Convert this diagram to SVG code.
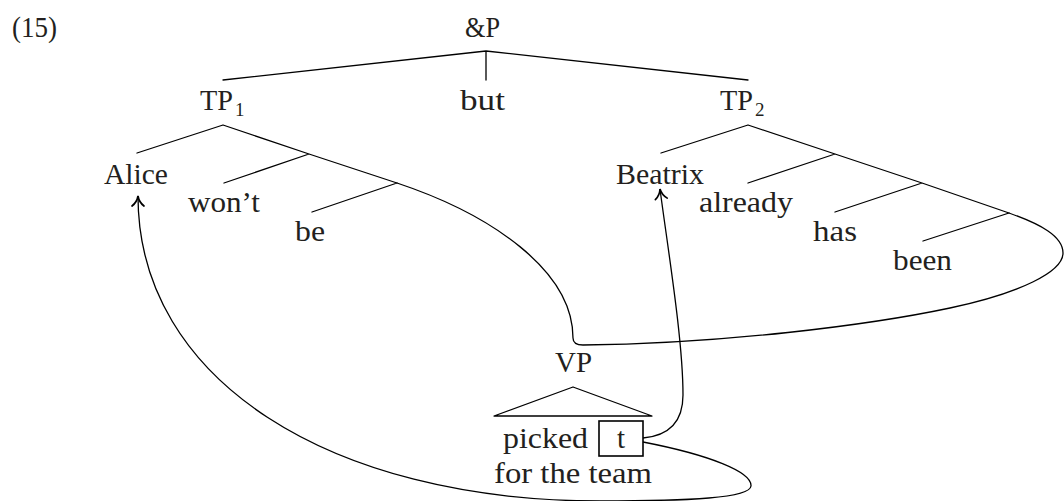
<svg xmlns="http://www.w3.org/2000/svg" width="1064" height="501" viewBox="0 0 1064 501">
  <style>
    text { font-family: "Liberation Serif", "Times New Roman", serif; font-size: 29px; fill: #231f20; }
    .sub { font-size: 19px; }
    .edge { fill: none; stroke: #000; stroke-width: 1.3; stroke-linecap: round; stroke-linejoin: round; }
    .move { fill: none; stroke: #000; stroke-width: 1.3; }
    .box { fill: none; stroke: #000; stroke-width: 1.6; }
  </style>
  <defs>
    <!-- slim curved arrowhead, tip at the path end -->
    <marker id="to" viewBox="-12 -8 14 16" refX="0" refY="0" markerWidth="14" markerHeight="16" markerUnits="userSpaceOnUse" orient="auto">
      <path d="M-10,-6 C-7.2,-2.4 -3,-0.5 0,0 C-3,0.5 -7.2,2.4 -10,6" fill="none" stroke="#000" stroke-width="1.7" stroke-linecap="round"/>
    </marker>
  </defs>

  <!-- example number -->
  <text id="exnum" x="12" y="37" textLength="45" lengthAdjust="spacingAndGlyphs">(15)</text>

  <!-- tree nodes -->
  <g id="andP"><text x="465" y="37" textLength="35" lengthAdjust="spacingAndGlyphs">&amp;P</text></g>
  <g id="TP1"><text x="200" y="110" textLength="33" lengthAdjust="spacingAndGlyphs">TP</text><text class="sub" x="235" y="116">1</text></g>
  <g id="but"><text x="460" y="110" textLength="45" lengthAdjust="spacingAndGlyphs">but</text></g>
  <g id="TP2"><text x="720" y="110" textLength="33" lengthAdjust="spacingAndGlyphs">TP</text><text class="sub" x="755" y="116">2</text></g>

  <g id="alice"><text x="104" y="184" textLength="64" lengthAdjust="spacingAndGlyphs">Alice</text></g>
  <g id="wont"><text x="188" y="212" textLength="72" lengthAdjust="spacingAndGlyphs">won’t</text></g>
  <g id="be"><text x="295" y="241" textLength="30" lengthAdjust="spacingAndGlyphs">be</text></g>

  <g id="beatrix"><text x="616" y="184" textLength="88" lengthAdjust="spacingAndGlyphs">Beatrix</text></g>
  <g id="already"><text x="699" y="212" textLength="94" lengthAdjust="spacingAndGlyphs">already</text></g>
  <g id="has"><text x="813" y="241" textLength="44" lengthAdjust="spacingAndGlyphs">has</text></g>
  <g id="been"><text x="893" y="270" textLength="59" lengthAdjust="spacingAndGlyphs">been</text></g>

  <g id="VP">
    <text x="555" y="372" textLength="37" lengthAdjust="spacingAndGlyphs">VP</text>
    <polygon class="edge" points="573,387 494,416 652,416"/>
    <text x="503" y="448" textLength="85" lengthAdjust="spacingAndGlyphs">picked</text>
    <text x="494" y="483" textLength="158" lengthAdjust="spacingAndGlyphs">for the team</text>
  </g>
  <g id="trace">
    <rect class="box" x="599" y="421" width="44" height="35"/>
    <text x="621" y="448" text-anchor="middle">t</text>
  </g>

  <!-- connectors -->
  <g id="connectors">
    <!-- &P branches -->
    <path class="edge" d="M223,80 L486,51 L748,80 M486,51 L486,80"/>
    <!-- left conjunct -->
    <path class="edge" d="M137,153 L223,125 L309,154 L397,183 M309,154 L224,183 M397,183 L312,212"/>
    <!-- right conjunct -->
    <path class="edge" d="M661,153 L748,125 L835,154 L922,183 L1009,213 M835,154 L748,183 M922,183 L835,212 M1009,213 L923,241"/>
    <!-- shared VP attached under both "be" and "been" -->
    <path class="edge" d="M397,183 C490,214 573,270 573,338 Q573,345 583,345 C720,344 870,325 950,308 C1020,293 1063,272 1063,253 C1063,236 1040,224 1009,213"/>
    <!-- movement of the trace to Beatrix -->
    <path class="move" marker-end="url(#to)" d="M643,438 C665,436 683,425 683,395 C683,340 668,250 660,189"/>
    <!-- movement of the trace to Alice -->
    <path class="move" marker-end="url(#to)" d="M643,442 C710,455 752,472 751,486 C750,498 690,501 600,501 C330,501 138,380 138,196"/>
  </g>
</svg>
